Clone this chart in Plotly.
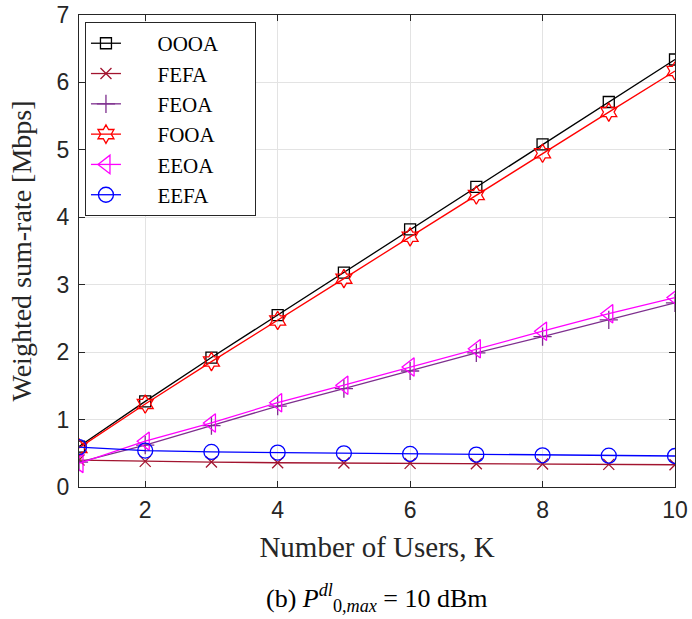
import plotly.graph_objects as go

# Number of users
users = [1, 2, 3, 4, 5, 6, 7, 8, 9, 10]

# Weighted sum-rate [Mbps] per scheme
ooa_rate = [0.60, 1.27, 1.92, 2.55, 3.18, 3.82, 4.45, 5.08, 5.71, 6.34]
fefa_rate = [0.40, 0.38, 0.37, 0.36, 0.355, 0.35, 0.345, 0.34, 0.335, 0.33]
feoa_rate = [0.37, 0.62, 0.91, 1.20, 1.46, 1.72, 1.99, 2.23, 2.48, 2.73]
fooa_rate = [0.58, 1.23, 1.86, 2.47, 3.09, 3.71, 4.33, 4.95, 5.56, 6.17]
eeoa_rate = [0.35, 0.68, 0.95, 1.25, 1.51, 1.78, 2.05, 2.31, 2.57, 2.81]
eefa_rate = [0.59, 0.54, 0.52, 0.51, 0.50, 0.49, 0.48, 0.47, 0.465, 0.46]

x_ticks = [2, 4, 6, 8, 10]
y_ticks = [0, 1, 2, 3, 4, 5, 6, 7]

series = [
    ("OOOA", ooa_rate, "#000000", "square-open", 11),
    ("FEFA", fefa_rate, "#A2142F", "x-thin-open", 11),
    ("FEOA", feoa_rate, "#7E2F8E", "cross-thin-open", 13),
    ("FOOA", fooa_rate, "#FF0000", "hexagram-open", 14),
    ("EEOA", eeoa_rate, "#FF00FF", "triangle-left-open", 16),
    ("EEFA", eefa_rate, "#0000FF", "circle-open", 15),
]

pad_left = "\u00a0" * 6
pad_right = "\u00a0" * 6

fig = go.Figure()
for name, vals, color, symbol, size in series:
    fig.add_trace(go.Scatter(
        x=users, y=vals, name=pad_left + name + pad_right, mode="lines+markers",
        line=dict(color=color, width=1.3),
        marker=dict(symbol=symbol, size=size, color=color,
                    line=dict(color=color, width=1.3)),
    ))

serif = "Liberation Serif, Times New Roman, serif"
sans = "Liberation Sans, Arial, Helvetica, sans-serif"
axis_common = dict(
    showline=True, linecolor="#262626", linewidth=1, mirror="ticks",
    ticks="inside", ticklen=6, tickcolor="#262626",
    showgrid=True, gridcolor="#E3E3E3", gridwidth=1,
    zeroline=False, automargin=False,
    tickfont=dict(family=sans, size=23, color="#262626"),
)

fig.update_layout(
    width=692, height=619,
    margin=dict(l=79, r=17, t=15, b=132),
    paper_bgcolor="white", plot_bgcolor="white",
    font=dict(family=serif, color="#262626"),
    showlegend=True,
    legend=dict(
        x=0.01, y=0.985, xanchor="left", yanchor="top",
        bgcolor="white", bordercolor="#262626", borderwidth=1,
        font=dict(family=serif, size=21, color="#000000"),
        tracegroupgap=0,
    ),
    xaxis=dict(axis_common, range=[1, 10], tickvals=x_ticks, ticklabelstandoff=2,
               title=dict(text="Number of Users, K", standoff=15,
                          font=dict(family=serif, size=29, color="#262626"))),
    yaxis=dict(axis_common, range=[0, 7], tickvals=y_ticks, ticklabelstandoff=4,
               title=dict(text="Weighted sum-rate [Mbps]", standoff=16,
                          font=dict(family=serif, size=28, color="#262626"))),
)

fig.add_annotation(
    text="(b) <i>P</i><sup><i>dl</i></sup><sub>0,<i>max</i></sub> = 10 dBm",
    xref="paper", yref="paper", x=0.5, y=-0.235, xanchor="center", yanchor="middle",
    showarrow=False, font=dict(family=serif, size=26, color="#000000"),
)

fig.write_html("out.html")
